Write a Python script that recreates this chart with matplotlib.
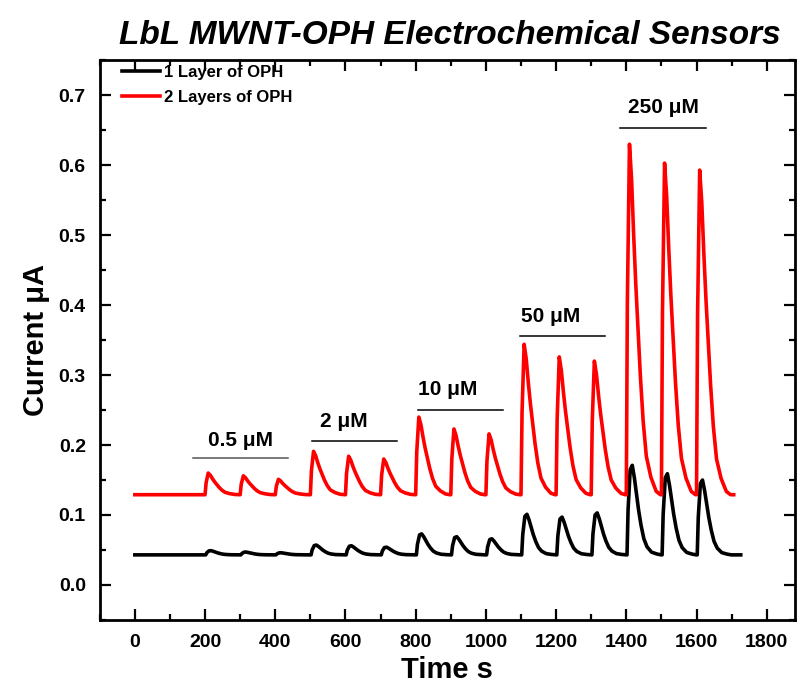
import numpy as np
import matplotlib
matplotlib.use("Agg")
import matplotlib.pyplot as plt
from matplotlib.ticker import MultipleLocator, FormatStrFormatter

plt.rcParams['font.family'] = ['Liberation Sans', 'DejaVu Sans']
plt.rcParams['font.weight'] = 'bold'

# injection times (s) and peak currents (uA)
inject_t = [200, 300, 400, 500, 600, 700, 800, 900, 1000,
            1100, 1200, 1300, 1400, 1500, 1600]
peaks_2 = [0.160, 0.156, 0.151, 0.191, 0.184, 0.180, 0.240, 0.223, 0.216,
           0.344, 0.326, 0.320, 0.630, 0.603, 0.593]
peaks_1 = [0.049, 0.047, 0.046, 0.057, 0.056, 0.054, 0.073, 0.069, 0.066,
           0.101, 0.097, 0.103, 0.171, 0.159, 0.150]
base_2 = 0.129
base_1 = 0.043
end_2 = 1706
end_1 = 1726

# transient shape: offset after injection (s) and fraction of peak height
shape_dt = [0, 3, 9, 15, 21, 27, 33, 40, 48, 57, 70, 85, 97]
shape_2 = [0, 0.55, 1.0, 0.9, 0.74, 0.6, 0.48, 0.34, 0.21, 0.11, 0.05, 0.01, 0.0]
shape_1 = [0, 0.5, 0.95, 1.0, 0.86, 0.68, 0.5, 0.33, 0.18, 0.09, 0.03, 0.01, 0.0]

conc_labels = ['0.5 \u03bcM', '2 \u03bcM', '10 \u03bcM', '50 \u03bcM', '250 \u03bcM']
bar_start = [165, 505, 807, 1098, 1383]
bar_end = [436, 747, 1050, 1340, 1626]
bar_y = [0.181, 0.206, 0.250, 0.356, 0.653]
label_x = [300, 595, 890, 1184, 1506]
label_y = [0.206, 0.233, 0.280, 0.384, 0.683]


def build_trace(base, peaks, shape, t_end, lag):
    t = [0]
    y = [base]
    for t0, pk in zip(inject_t, peaks):
        for dt, f in zip(shape_dt, shape):
            t.append(t0 + lag + dt)
            y.append(base + (pk - base) * f)
    t.append(t_end)
    y.append(base)
    return np.array(t), np.array(y)


t1, y1 = build_trace(base_1, peaks_1, shape_1, end_1, 2)
t2, y2 = build_trace(base_2, peaks_2, shape_2, end_2, 0)

fig = plt.figure(figsize=(7.98, 6.85), dpi=100)
ax = fig.add_axes([0.125, 0.095, 0.871, 0.817])

ax.plot(t1, y1, color='black', lw=2.6, label='1 Layer of OPH')
ax.plot(t2, y2, color='#ff0000', lw=2.6, label='2 Layers of OPH')

for i in range(len(conc_labels)):
    ax.plot([bar_start[i], bar_end[i]], [bar_y[i], bar_y[i]],
            color='#555555' if i == 0 else 'black', lw=1.1)
    ax.text(label_x[i], label_y[i], conc_labels[i], ha='center', va='center',
            fontsize=15, fontweight='bold')

ax.set_xlim(-100, 1880)
ax.set_ylim(-0.05, 0.75)
ax.xaxis.set_major_locator(MultipleLocator(200))
ax.xaxis.set_minor_locator(MultipleLocator(100))
ax.yaxis.set_major_locator(MultipleLocator(0.1))
ax.yaxis.set_minor_locator(MultipleLocator(0.05))
ax.yaxis.set_major_formatter(FormatStrFormatter('%.1f'))
ax.tick_params(which='both', direction='in', top=True, right=True, width=1.6)
ax.tick_params(which='major', length=8, labelsize=14, pad=10)
ax.tick_params(which='minor', length=4)
for lab in ax.get_xticklabels() + ax.get_yticklabels():
    lab.set_fontweight('bold')
for s in ax.spines.values():
    s.set_linewidth(2)

ax.set_xlabel('Time s', fontsize=21, fontweight='bold', labelpad=4)
ax.set_ylabel('Current \u03bcA', fontsize=21, fontweight='bold', labelpad=6)
fig.text(0.564, 0.948, 'LbL MWNT-OPH Electrochemical Sensors', ha='center', va='center',
         fontsize=24, fontweight='bold', fontstyle='italic')

leg = ax.legend(loc='upper left', frameon=False, fontsize=12, handlelength=2.3,
                handletextpad=0.2, borderaxespad=0.1, borderpad=0.2,
                labelspacing=0.6, bbox_to_anchor=(0.025, 1.0))
for txt in leg.get_texts():
    txt.set_fontweight('bold')

fig.savefig('out.png', dpi=100)
